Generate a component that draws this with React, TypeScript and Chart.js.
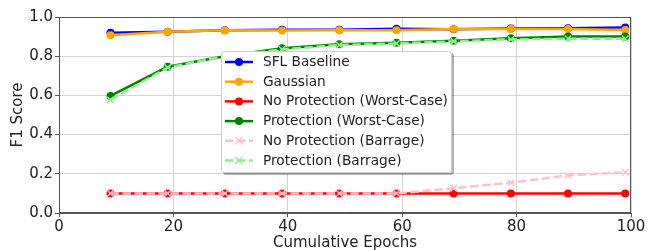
import React, { useEffect, useRef } from "react";
import { Chart, registerables } from "chart.js";

Chart.register(...registerables);

const epochs = [9, 19, 29, 39, 49, 59, 69, 79, 89, 99];
const sflBaseline = [0.92, 0.925, 0.932, 0.935, 0.935, 0.94, 0.937, 0.941, 0.942, 0.947];
const gaussian = [0.907, 0.925, 0.932, 0.931, 0.932, 0.932, 0.939, 0.939, 0.939, 0.934];
const noProtWorst = [0.1, 0.1, 0.1, 0.1, 0.1, 0.1, 0.1, 0.1, 0.1, 0.1];
const protWorst = [0.597, 0.746, 0.8, 0.84, 0.861, 0.869, 0.879, 0.891, 0.901, 0.9];
const noProtBarrage = [0.1, 0.1, 0.1, 0.1, 0.1, 0.1, 0.126, 0.155, 0.192, 0.208];
const protBarrage = [0.577, 0.742, 0.8, 0.835, 0.857, 0.865, 0.876, 0.886, 0.889, 0.889];

const seriesNames = [
  "SFL Baseline",
  "Gaussian",
  "No Protection (Worst-Case)",
  "Protection (Worst-Case)",
  "No Protection (Barrage)",
  "Protection (Barrage)",
];
const xTicks = [0, 20, 40, 60, 80, 100];
const yTicks = [0, 0.2, 0.4, 0.6, 0.8, 1.0];

const FONT = "'DejaVu Sans', sans-serif";
const DASH = [8.5, 3.5];

const styles = [
  { color: "#0000ff", marker: "circle", dashed: false },
  { color: "#ffa500", marker: "circle", dashed: false },
  { color: "#ff0000", marker: "circle", dashed: false },
  { color: "#008000", marker: "circle", dashed: false },
  { color: "#ffc0cb", marker: "crossRot", dashed: true },
  { color: "#90ee90", marker: "crossRot", dashed: true },
];
const seriesValues = [sflBaseline, gaussian, noProtWorst, protWorst, noProtBarrage, protBarrage];

const framePlugin = {
  id: "frameAndLegend",
  afterDatasetsDraw(chart: any) {
    const { ctx, chartArea } = chart;
    const { left, top, right, bottom } = chartArea;
    ctx.save();
    ctx.strokeStyle = "#555555";
    ctx.lineWidth = 1;
    ctx.strokeRect(left + 0.5, top + 0.5, right - left - 1, bottom - top - 1);

    // legend
    const lx = left + 162;
    const ly = top + 34;
    const lw = 231;
    const lh = 122;
    ctx.fillStyle = "rgba(0,0,0,0.3)";
    ctx.beginPath();
    (ctx as any).roundRect(lx + 2, ly + 2, lw, lh, 3);
    ctx.fill();
    ctx.fillStyle = "#ffffff";
    ctx.beginPath();
    (ctx as any).roundRect(lx, ly, lw, lh, 3);
    ctx.fill();
    ctx.strokeStyle = "#cccccc";
    ctx.lineWidth = 1;
    ctx.beginPath();
    (ctx as any).roundRect(lx + 0.5, ly + 0.5, lw - 1, lh - 1, 3);
    ctx.stroke();

    ctx.font = `13.7px ${FONT}`;
    ctx.textBaseline = "middle";
    ctx.textAlign = "left";
    seriesNames.forEach((name, i) => {
      const st = styles[i];
      const cy = ly + 11 + i * 19.7;
      const x0 = lx + 4;
      const x1 = lx + 32;
      const cx = (x0 + x1) / 2;
      ctx.strokeStyle = st.color;
      ctx.lineWidth = 2.5;
      ctx.setLineDash(st.dashed ? DASH : []);
      ctx.beginPath();
      ctx.moveTo(x0, cy);
      ctx.lineTo(x1, cy);
      ctx.stroke();
      ctx.setLineDash([]);
      if (st.marker === "circle") {
        ctx.fillStyle = st.color;
        ctx.beginPath();
        ctx.arc(cx, cy, 4, 0, Math.PI * 2);
        ctx.fill();
      } else {
        ctx.lineWidth = 1.5;
        ctx.beginPath();
        ctx.moveTo(cx - 3.5, cy - 3.5);
        ctx.lineTo(cx + 3.5, cy + 3.5);
        ctx.moveTo(cx + 3.5, cy - 3.5);
        ctx.lineTo(cx - 3.5, cy + 3.5);
        ctx.stroke();
      }
      ctx.fillStyle = "#222222";
      ctx.fillText(name, lx + 42, cy + 0.5);
    });
    ctx.restore();
  },
};

export default function App() {
  const ref = useRef<HTMLCanvasElement | null>(null);
  useEffect(() => {
    document.body.style.margin = "0";
    const canvas = ref.current;
    if (!canvas) return;
    const n = seriesNames.length;
    const datasets = seriesNames.map((name, i) => {
      const st = styles[i];
      return {
        label: name,
        order: n - 1 - i,
        data: epochs.map((e, j) => ({ x: e, y: seriesValues[i][j] })),
        borderColor: st.color,
        backgroundColor: st.color,
        borderWidth: 2.5,
        borderDash: st.dashed ? DASH : [],
        pointStyle: st.marker,
        pointRadius: st.marker === "circle" ? 4 : 4.5,
        pointBorderWidth: st.marker === "circle" ? 0 : 1.5,
        pointBackgroundColor: st.color,
        pointBorderColor: st.color,
        tension: 0,
        fill: false,
      };
    });
    const chart = new Chart(canvas, {
      type: "line",
      data: { datasets } as any,
      plugins: [framePlugin],
      options: {
        animation: false,
        responsive: false,
        devicePixelRatio: 1,
        layout: { padding: { left: 0, top: 17, right: 26, bottom: 0 } },
        plugins: { legend: { display: false }, tooltip: { enabled: false } },
        scales: {
          x: {
            type: "linear",
            min: 0,
            max: 100,
            afterFit: (s: any) => {
              s.height = 37;
            },
            afterBuildTicks: (s: any) => {
              s.ticks = xTicks.map((v) => ({ value: v }));
            },
            ticks: {
              color: "#222222",
              font: { family: FONT, size: 15 },
              padding: 1,
              maxRotation: 0,
              callback: (v: any) => String(v),
            },
            grid: { color: "#d3d3d3", tickColor: "#555555", tickLength: 4, lineWidth: 1 },
            border: { color: "#555555" },
            title: {
              display: true,
              text: "Cumulative Epochs",
              color: "#222222",
              font: { family: FONT, size: 15 },
              padding: { top: 0, bottom: -2 },
            },
          },
          y: {
            type: "linear",
            min: 0,
            max: 1,
            afterFit: (s: any) => {
              s.width = 59;
            },
            afterBuildTicks: (s: any) => {
              s.ticks = yTicks.map((v) => ({ value: v }));
            },
            ticks: {
              color: "#222222",
              font: { family: FONT, size: 15 },
              padding: 2,
              callback: (v: any) => Number(v).toFixed(1),
            },
            grid: { color: "#d3d3d3", tickColor: "#555555", tickLength: 4, lineWidth: 1 },
            border: { color: "#555555" },
            title: {
              display: true,
              text: "F1 Score",
              color: "#222222",
              font: { family: FONT, size: 15 },
              padding: { top: 9, bottom: 0 },
            },
          },
        },
      } as any,
    });
    return () => chart.destroy();
  }, []);
  return (
    <div style={{ width: 657, height: 250 }}>
      <canvas ref={ref} width={657} height={250} style={{ display: "block", width: 657, height: 250 }} />
    </div>
  );
}
